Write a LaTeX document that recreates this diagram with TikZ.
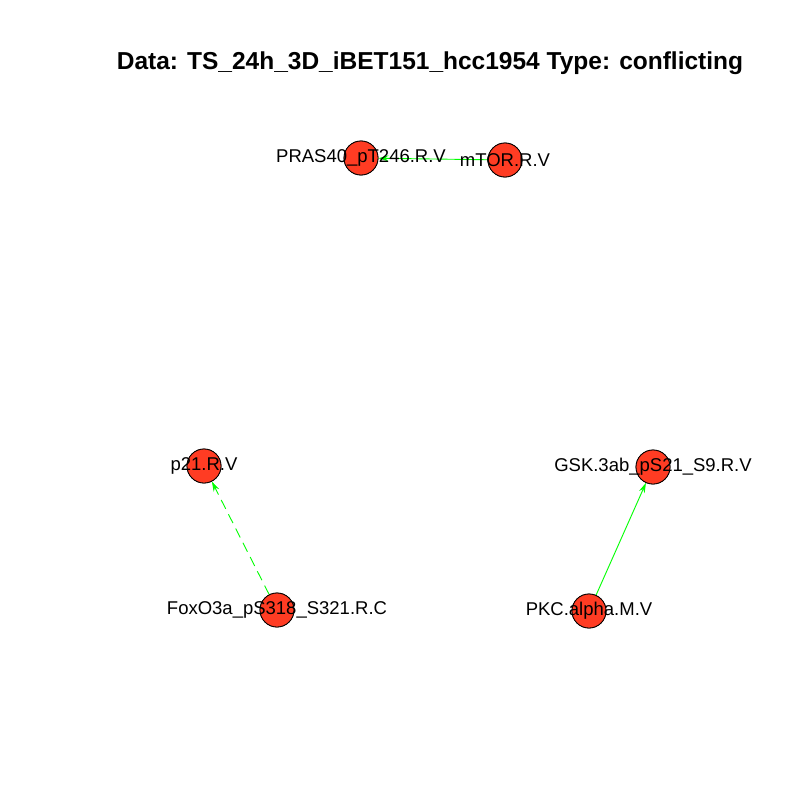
\documentclass[tikz,border=0pt]{standalone}
\usepackage{fontspec}
\setmainfont{Liberation Sans}
\usetikzlibrary{arrows.meta}
\begin{document}
\begin{tikzpicture}[x=1pt,y=-1pt,
  vert/.style={circle,draw=black,line width=0.8pt,fill={rgb,255:red,255;green,60;blue,35},minimum size=34pt,inner sep=0pt},
  lab/.style={font=\fontsize{18.5}{22}\selectfont,inner sep=0pt},
  edge/.style={draw={rgb,255:red,0;green,255;blue,0},line width=0.9pt,-{Stealth[length=10pt,width=6pt]}}]
\useasboundingbox (0,0) rectangle (800,800);
\node[font=\bfseries\fontsize{24.5}{28}\selectfont] (title) at (430,63) {Data: TS\_24h\_3D\_iBET151\_hcc1954 Type: conflicting};
\node[vert] (pras) at (361,158) {};
\node[vert] (mtor) at (505,160) {};
\node[vert] (p21) at (204,466) {};
\node[vert] (foxo) at (277,610) {};
\node[vert] (gsk) at (653,467) {};
\node[vert] (pkc) at (589,611) {};
\draw[edge] (mtor) -- (pras);
\draw[edge,dash pattern=on 10pt off 6pt] (foxo) -- (p21);
\draw[edge] (pkc) -- (gsk);
\node[vert] at (361,158) {};
\node[vert] at (505,160) {};
\node[vert] at (204,466) {};
\node[vert] at (277,610) {};
\node[vert] at (653,467) {};
\node[vert] at (589,611) {};
\node[lab] (lpras) at (361,158) {PRAS40\_pT246.R.V};
\node[lab] (lmtor) at (505,160) {mTOR.R.V};
\node[lab] (lp21) at (204,466) {p21.R.V};
\node[lab] (lfoxo) at (277,610) {FoxO3a\_pS318\_S321.R.C};
\node[lab] (lgsk) at (653,467) {GSK.3ab\_pS21\_S9.R.V};
\node[lab] (lpkc) at (589,611) {PKC.alpha.M.V};
\end{tikzpicture}
\end{document}
